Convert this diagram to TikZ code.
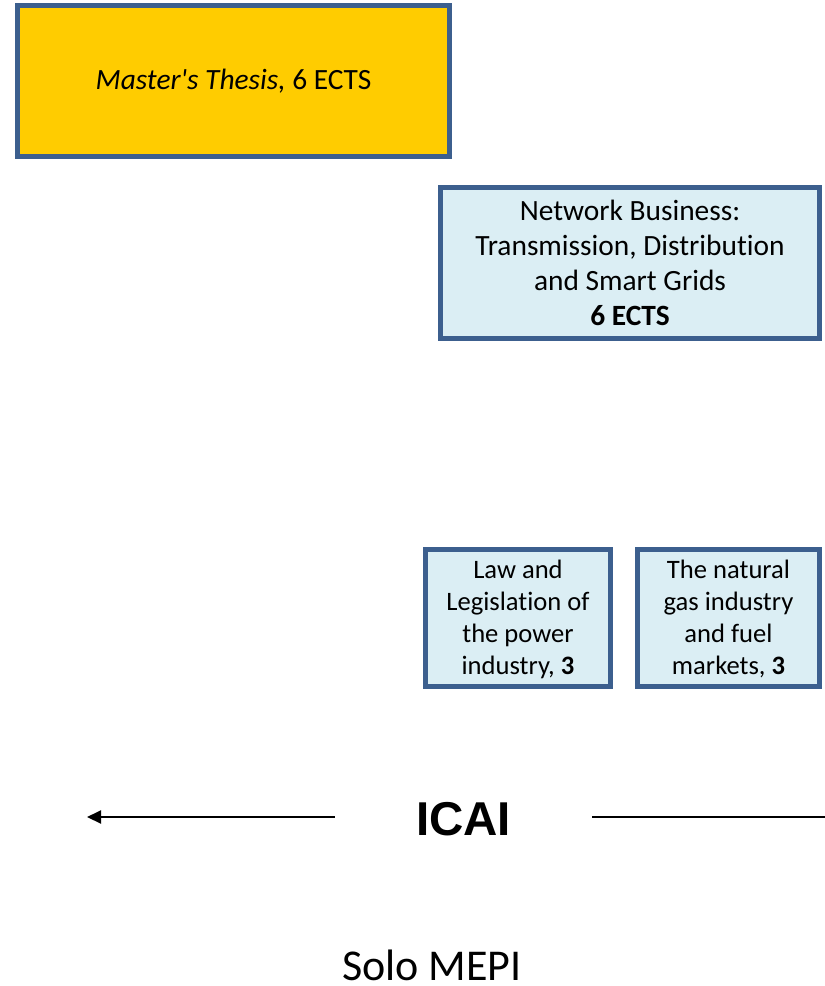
\documentclass[tikz,border=0pt]{standalone}
\usepackage{fontspec}
\setmainfont{Carlito}[Ligatures=NoCommon]
\newfontfamily\arialfont{Liberation Sans}
\usetikzlibrary{arrows.meta}
\definecolor{bordblue}{HTML}{3C5F8E}
\definecolor{thesisyellow}{HTML}{FFCC00}
\definecolor{courseblue}{HTML}{DBEEF4}
\tikzset{
  box/.style={draw=bordblue, line width=5pt, inner sep=0pt, align=center},
  bigtext/.style={font=\fontsize{29.4}{35}\selectfont},
  smalltext/.style={font=\fontsize{26.6}{32}\selectfont, align=center, inner sep=0pt},
  conn/.style={line width=2pt, black}
}
\begin{document}
\begin{tikzpicture}[x=1pt,y=-1pt]
\useasboundingbox (0,0) rectangle (825,986);
\node[box, fill=thesisyellow, bigtext, minimum width=432pt, minimum height=151pt] (thesis) at (233.5,81) {\textit{Master\textquotesingle s Thesis,} 6 ECTS};
\node[box, fill=courseblue, bigtext, minimum width=379pt, minimum height=151pt] (network) at (630,263) {Network Business:\\Transmission, Distribution\\and Smart Grids\\\textbf{6 ECTS}};
\node[box, fill=courseblue, minimum width=185pt, minimum height=137pt] (law) at (518,618) {};
\node[smalltext] (lawtext) at ([yshift=-1pt]law.center) {Law and\\Legislation of\\the power\\industry, \textbf{3}};
\node[box, fill=courseblue, minimum width=182pt, minimum height=137pt] (gas) at (728.5,618) {};
\node[smalltext] (gastext) at ([yshift=-1pt]gas.center) {The natural\\gas industry\\and fuel\\markets, \textbf{3}};
\node[inner xsep=81pt, inner ysep=0pt, font=\arialfont\bfseries\fontsize{47.5}{47.5}\selectfont] (icai) at (463.5,819) {ICAI};
\coordinate (leftend) at (87,817);
\coordinate (rightend) at (826,817);
\draw[conn, -{Triangle[length=14pt,width=13pt]}] (icai.west |- leftend) -- (leftend);
\draw[conn] (icai.east |- rightend) -- (rightend);
\node[font=\fontsize{44}{44}\selectfont, inner sep=0pt, anchor=base] (solo) at (432,980) {Solo MEPI};
\end{tikzpicture}
\end{document}
